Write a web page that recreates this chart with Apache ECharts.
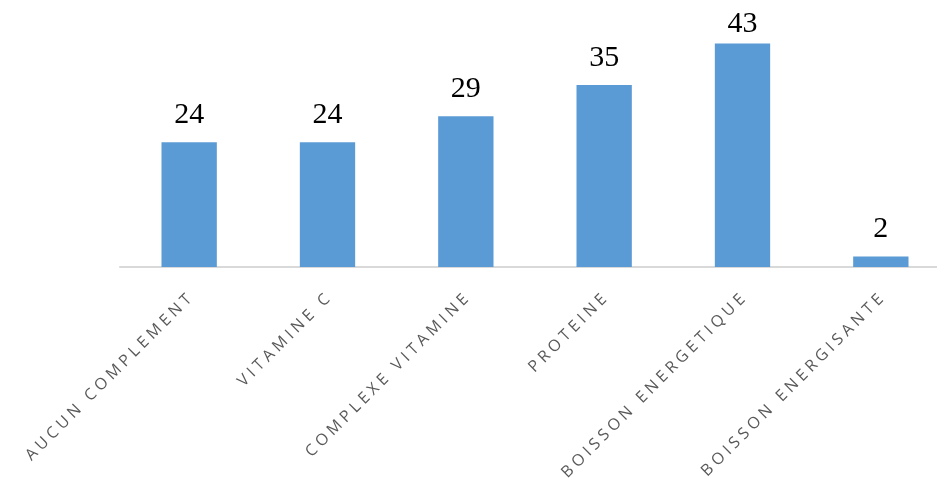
<!DOCTYPE html>
<html>
<head>
<meta charset="utf-8">
<script src="https://cdn.jsdelivr.net/npm/echarts@6/dist/echarts.min.js"></script>
<style>
  html, body { margin: 0; padding: 0; background: #ffffff; }
  #chart { width: 937px; height: 488px; }
</style>
</head>
<body>
<div id="chart"></div>
<script>
// Supplement categories and respondent counts
const categories = [
  'AUCUN COMPLEMENT',
  'VITAMINE C',
  'COMPLEXE VITAMINE',
  'PROTEINE',
  'BOISSON ENERGETIQUE',
  'BOISSON ENERGISANTE'
];
const counts = [24, 24, 29, 35, 43, 2];

const Y_MAX = 50;

// Spread letters out with a four-per-em space between characters
function spaced(name) {
  return name.split('').join('\u2005');
}

// Labels of bars reaching near the top of the plot are tucked closer to the bar
const barData = counts.map(function (v) {
  return v > Y_MAX * 0.8 ? { value: v, label: { distance: 4 } } : v;
});

const chart = echarts.init(document.getElementById('chart'));
chart.setOption({
  animation: false,
  backgroundColor: '#ffffff',
  grid: {
    left: 120, width: 830, top: 7, height: 260,
    containLabel: false,
    outerBoundsMode: 'none'
  },
  xAxis: {
    type: 'category',
    data: categories,
    axisLine: { show: true, lineStyle: { color: '#d9d9d9', width: 2 } },
    axisTick: { show: false },
    axisLabel: {
      interval: 0,
      rotate: 45,
      margin: 30,
      color: '#595959',
      fontFamily: 'Open Sans',
      fontSize: 16,
      formatter: spaced
    }
  },
  yAxis: {
    type: 'value',
    min: 0,
    max: Y_MAX,
    show: false,
    splitLine: { show: false }
  },
  series: [{
    type: 'bar',
    data: barData,
    barWidth: '40%',
    itemStyle: { color: '#5b9bd5' },
    label: {
      show: true,
      position: 'top',
      distance: 12,
      color: '#000000',
      fontFamily: 'Liberation Serif',
      fontSize: 30
    }
  }]
});
</script>
</body>
</html>
